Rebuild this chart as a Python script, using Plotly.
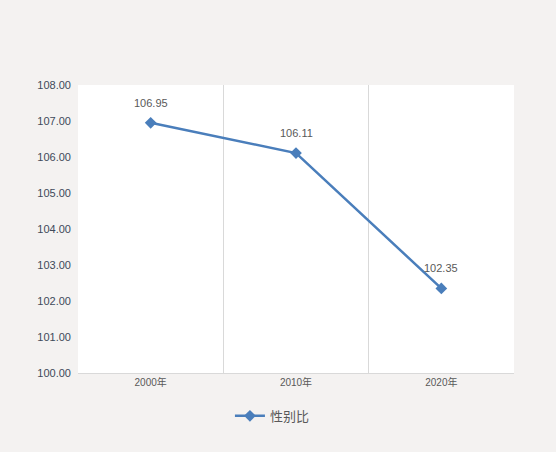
"""性别比折线图"""
import plotly.graph_objects as go

# 数据
years = ["2000年", "2010年", "2020年"]
sex_ratio = [106.95, 106.11, 102.35]
y_ticks = [100, 101, 102, 103, 104, 105, 106, 107, 108]

LINE_COLOR = "#4a7ebb"
TEXT_COLOR = "#595959"

fig = go.Figure()
fig.add_trace(go.Scatter(
    x=years,
    y=sex_ratio,
    name="性别比",
    mode="lines+markers",
    line=dict(color=LINE_COLOR, width=2.5),
    marker=dict(symbol="diamond", size=9, color=LINE_COLOR),
))

# 数据标签
for yr, v in zip(years, sex_ratio):
    fig.add_annotation(
        x=yr, y=v, text=f"{v:.2f}",
        showarrow=False, yshift=20,
        font=dict(size=11, color=TEXT_COLOR),
    )

fig.update_layout(
    width=556,
    height=452,
    margin=dict(l=78, r=42, t=85, b=79),
    paper_bgcolor="#f4f2f1",
    plot_bgcolor="white",
    font=dict(family="Liberation Sans, DejaVu Sans, Noto Sans CJK SC", color=TEXT_COLOR),
    showlegend=True,
    legend=dict(
        orientation="h",
        xref="container", yref="container",
        x=0.49, y=0.08,
        xanchor="center", yanchor="middle",
        font=dict(size=13, color=TEXT_COLOR),
        bgcolor="rgba(0,0,0,0)",
    ),
    xaxis=dict(
        type="category",
        tickson="boundaries",
        showgrid=True,
        gridcolor="#d9d9d9",
        gridwidth=1,
        showline=True,
        linecolor="#d9d9d9",
        ticks="",
        tickfont=dict(size=10, color=TEXT_COLOR),
        range=[-0.5, 2.5],
        fixedrange=True,
    ),
    yaxis=dict(
        range=[100, 108],
        tickvals=y_ticks,
        tickformat=".2f",
        showgrid=False,
        zeroline=False,
        showline=False,
        ticks="",
        tickfont=dict(size=11, color="#404a5a"),
        ticklabelstandoff=6,
    ),
)

fig.write_html(
    "out.html",
    config={"displayModeBar": False},
    post_script="document.body.style.margin='0';",
)
